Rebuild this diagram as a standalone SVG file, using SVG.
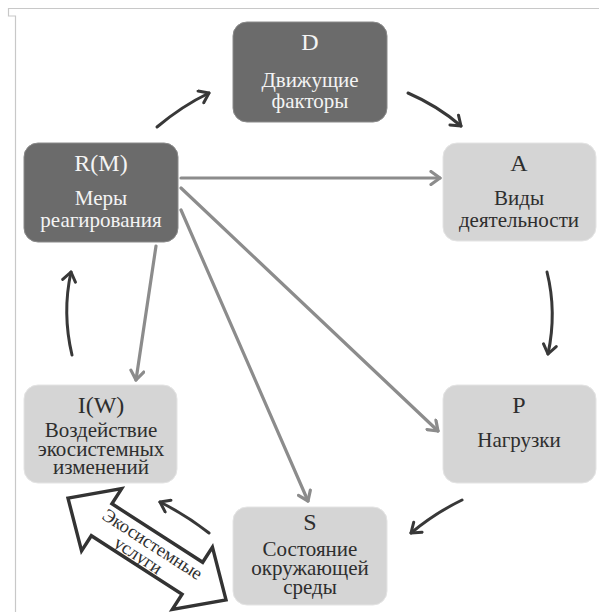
<svg xmlns="http://www.w3.org/2000/svg" width="599" height="612" viewBox="0 0 599 612">
<style>
.frame{fill:none;stroke:#c8c8c8;stroke-width:1.2}
.dark{fill:#6b6b6b;stroke:#8a8a8a;stroke-width:1}
.light{fill:#d5d5d5;stroke:#e4e4e4;stroke-width:1}
text{font-family:"Liberation Serif","Times New Roman",serif;text-anchor:middle}
.tw{fill:#f4f4f4}
.tk{fill:#2e2e2e}
.ttl{font-size:24px}
.bd{font-size:21px}
.cd{fill:none;stroke:#383838;stroke-width:3;stroke-linecap:round}
.cg{fill:none;stroke:#8c8c8c;stroke-width:3.2;stroke-linecap:round}
.dbl{fill:#ffffff;stroke:#333333;stroke-width:3.4;stroke-linejoin:miter}
.lbl{font-size:18.5px;fill:#2e2e2e}
</style>
<defs>
<marker id="ad" markerUnits="userSpaceOnUse" markerWidth="16" markerHeight="16" refX="12" refY="8" orient="auto">
<path d="M3,1.5 L12,8 L3,14.5" fill="none" stroke="#383838" stroke-width="3" stroke-linecap="round" stroke-linejoin="round"/>
</marker>
<marker id="ag" markerUnits="userSpaceOnUse" markerWidth="16" markerHeight="16" refX="12" refY="8" orient="auto">
<path d="M3,1.5 L12,8 L3,14.5" fill="none" stroke="#8c8c8c" stroke-width="3.2" stroke-linecap="round" stroke-linejoin="round"/>
</marker>
</defs>
<rect width="599" height="612" fill="#ffffff"/>
<path class="frame" d="M599,8.5 L8.5,8.5 L8.5,16 L15.5,16 L15.5,612"/>

<g id="connectors">
<path class="cd" d="M157,127 Q182,106 209,93" marker-end="url(#ad)"/>
<path class="cd" d="M408,93 Q438,106 461,126" marker-end="url(#ad)"/>
<path class="cd" d="M547,272 Q557,312 548,354" marker-end="url(#ad)"/>
<path class="cd" d="M462,500 Q435,513 411,533" marker-end="url(#ad)"/>
<path class="cd" d="M209,533 Q186,515 160,502" marker-end="url(#ad)"/>
<path class="cd" d="M72,355 Q62,313 71,272" marker-end="url(#ad)"/>
<path class="cg" d="M181,178 L440,178" marker-end="url(#ag)"/>
<path class="cg" d="M181,188 L438,431" marker-end="url(#ag)"/>
<path class="cg" d="M181,210 L308,501" marker-end="url(#ag)"/>
<path class="cg" d="M156,246 L136,380" marker-end="url(#ag)"/>
</g>

<g id="ecosystem-services" transform="translate(147,549) rotate(32.8)">
<polygon class="dbl" points="-94,0 -54,-37 -54,-19 54,-19 54,-37 94,0 54,37 54,19 -54,19 -54,37"/>
<text class="lbl" x="2" y="-1">Экосистемные</text>
<text class="lbl" x="-4" y="16">услуги</text>
</g>

<g id="node-D">
<rect class="dark" x="233" y="22" width="154" height="100" rx="14"/>
<text class="tw ttl" x="310" y="50">D</text>
<text class="tw bd" x="310" y="87">Движущие</text>
<text class="tw bd" x="310" y="108">факторы</text>
</g>
<g id="node-RM">
<rect class="dark" x="24" y="143" width="154" height="99" rx="14"/>
<text class="tw ttl" x="101" y="171">R(M)</text>
<text class="tw bd" x="101" y="205">Меры</text>
<text class="tw bd" x="101" y="227">реагирования</text>
</g>
<g id="node-A">
<rect class="light" x="443" y="143" width="153" height="98" rx="14"/>
<text class="tk ttl" x="519" y="171">A</text>
<text class="tk bd" x="519" y="205">Виды</text>
<text class="tk bd" x="519" y="227">деятельности</text>
</g>
<g id="node-IW">
<rect class="light" x="24" y="385" width="153" height="98" rx="14"/>
<text class="tk ttl" x="101" y="413">I(W)</text>
<text class="tk bd" x="101" y="437">Воздействие</text>
<text class="tk bd" x="101" y="456">экосистемных</text>
<text class="tk bd" x="101" y="474">изменений</text>
</g>
<g id="node-P">
<rect class="light" x="443" y="385" width="153" height="98" rx="14"/>
<text class="tk ttl" x="519" y="413">P</text>
<text class="tk bd" x="519" y="447">Нагрузки</text>
</g>
<g id="node-S">
<rect class="light" x="233" y="507" width="154" height="98" rx="14"/>
<text class="tk ttl" x="310" y="530">S</text>
<text class="tk bd" x="310" y="556">Состояние</text>
<text class="tk bd" x="310" y="575">окружающей</text>
<text class="tk bd" x="310" y="594">среды</text>
</g>
</svg>
